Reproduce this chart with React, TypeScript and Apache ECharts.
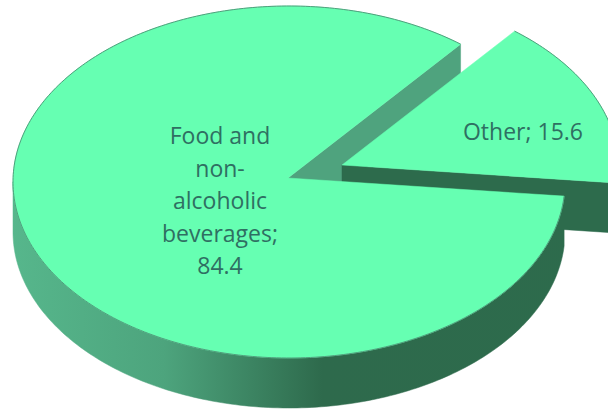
import React, { useEffect, useRef } from "react";
import * as echarts from "echarts";

const sliceNames = ["Food and non-alcoholic beverages", "Other"];
const sliceValues = [84.4, 15.6];
const labelLines = [["Food and", "non-", "alcoholic", "beverages;", "84.4"], ["Other; 15.6"]];

const TOP = "#66FFB2";
const WALL_LIGHT = "#4FA37E";
const WALL_DARK = "#2D6B4C";
const RIM_EDGE = "#4F9F7C";
const TEXT = "#2F6F62";

// The disc's rim is an ellipse; the slices meet slightly above its centre, as in a tilted view.
const APEX = [288, 178];
const CX = 289;
const CY = 182;
const RX = 276;
const RY = 176;
const DEPTH = 50;
const START_DEG = -4.6; // where the small slice begins, measured counter-clockwise on the disc
const EXPLODE = [54, -13];
const LABEL_POS = [[220, 200], [523, 131]];
const LINE_HEIGHT = 32.5;

const rim = (deg: number, ox: number, oy: number) => {
  const a = (deg * Math.PI) / 180;
  return [CX + ox + RX * Math.cos(a), CY + oy - RY * Math.sin(a)];
};

const arc = (from: number, to: number, ox: number, oy: number) => {
  const n = Math.max(2, Math.ceil(Math.abs(to - from)));
  const pts: number[][] = [];
  for (let i = 0; i <= n; i++) pts.push(rim(from + ((to - from) * i) / n, ox, oy));
  return pts;
};

const poly = (points: number[][], fill: any, z2: number) => ({
  type: "polygon",
  z2,
  shape: { points },
  style: { fill, stroke: fill, lineWidth: 0.5 },
});

const rimGradient = () =>
  new echarts.graphic.LinearGradient(
    0,
    0,
    608,
    0,
    [
      { offset: 0, color: "#57B88D" },
      { offset: 0.27, color: "#4DA47D" },
      { offset: 0.53, color: "#2E6A4C" },
      { offset: 1, color: "#2D6B4C" },
    ],
    true
  );

const renderSlice = (params: any, api: any) => {
  const idx = params.dataIndex;
  const total = sliceValues.reduce((s, v) => s + v, 0);
  const sweepOther = (sliceValues[1] / total) * 360;
  const sweep = (api.value(0) / total) * 360;
  const children: any[] = [];

  if (idx === 0) {
    // Large slice: runs from the end of the small slice round the long way.
    const from = START_DEG + sweepOther;
    const to = from + sweep;
    const top = arc(from, to, 0, 0);
    const visibleRim = arc(180, to, 0, 0);
    const rimBottom = arc(to, 180, 0, DEPTH);
    const backEdge = rim(from, 0, 0);
    children.push(poly([...visibleRim, ...rimBottom], rimGradient(), 1));
    children.push(
      poly([APEX, backEdge, rim(from, 0, DEPTH), [APEX[0], APEX[1] + DEPTH]], WALL_LIGHT, 2)
    );
    children.push(poly([APEX, ...top], TOP, 6));
    children.push({
      type: "polyline",
      z2: 7,
      shape: { points: top },
      style: { fill: "none", stroke: RIM_EDGE, lineWidth: 1 },
    });
  } else {
    // Small slice, pulled out from the disc.
    const [ox, oy] = EXPLODE;
    const from = START_DEG;
    const to = from + sweep;
    const top = arc(from, to, ox, oy);
    const apex = [APEX[0] + ox, APEX[1] + oy];
    const low = rim(from, ox, oy);
    children.push(poly([apex, low, rim(from, ox, oy + DEPTH), [apex[0], apex[1] + DEPTH]], WALL_DARK, 3));
    children.push(poly([apex, ...top], TOP, 4));
    children.push({
      type: "polyline",
      z2: 5,
      shape: { points: top },
      style: { fill: "none", stroke: RIM_EDGE, lineWidth: 1 },
    });
  }

  const [lx, ly] = LABEL_POS[idx];
  const lines = labelLines[idx];
  lines.forEach((line, i) => {
    children.push({
      type: "text",
      z2: 10,
      x: lx,
      y: ly + (i - (lines.length - 1) / 2) * LINE_HEIGHT,
      style: {
        text: line,
        fill: TEXT,
        font: '23px "Open Sans", sans-serif',
        align: "center",
        verticalAlign: "middle",
      },
    });
  });

  return { type: "group", children };
};

export default function App() {
  const ref = useRef<HTMLDivElement>(null);
  useEffect(() => {
    const chart = echarts.init(ref.current!, undefined, { renderer: "svg" });
    chart.setOption({
      animation: false,
      backgroundColor: "#ffffff",
      series: [
        {
          type: "custom",
          coordinateSystem: "none",
          silent: true,
          clip: false,
          renderItem: renderSlice,
          data: sliceNames.map((name, i) => ({ name, value: [sliceValues[i]] })),
        },
      ],
    });
    return () => chart.dispose();
  }, []);
  return (
    <div
      ref={ref}
      style={{ position: "fixed", left: 0, top: 0, width: 608, height: 409, overflow: "hidden" }}
    />
  );
}
